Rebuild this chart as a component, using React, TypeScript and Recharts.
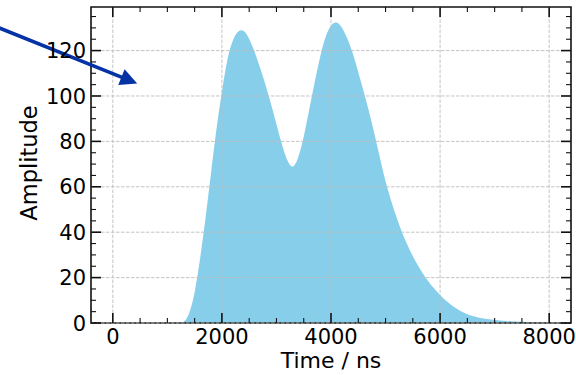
import React from 'react';
import { AreaChart, Area, XAxis, YAxis, ReferenceLine, ReferenceArea } from 'recharts';

const timeNs = [
  0, 500, 1000, 1200, 1300, 1400, 1500, 1600, 1700, 1800, 1900, 2000, 2100, 2200, 2300, 2400,
  2500, 2600, 2700, 2800, 2900, 3000, 3100, 3200, 3300, 3400, 3500, 3600, 3700, 3800, 3900,
  4000, 4100, 4200, 4300, 4400, 4500, 4600, 4700, 4800, 4900, 5000, 5100, 5200, 5300, 5400,
  5500, 5600, 5700, 5800, 5900, 6000, 6100, 6200, 6300, 6400, 6500, 6600, 6700, 6800, 6900,
  7000, 7200, 7400, 7600, 7800, 8000,
];
const amplitude = [
  0, 0, 0, 0, 0, 3.5, 12.5, 28, 46, 66, 86, 102, 117, 125, 129, 129.3,
  125.5, 119.5, 112.5, 105, 96.5, 87.5, 78.5, 71, 67.5, 72.5, 81.5, 94, 106, 117.5, 126.5,
  131.5, 133, 130.5, 125.5, 119, 110.5, 102, 93, 83, 72.5, 62, 54, 46.5, 40, 34.3,
  29.3, 25, 21.2, 17.8, 14.9, 12.3, 10, 8, 6.3, 4.9, 3.8, 3.0, 2.4, 1.95, 1.6,
  1.3, 0.9, 0.6, 0.4, 0.2, 0.1,
];

const xTicks = [0, 500, 1000, 1500, 2000, 2500, 3000, 3500, 4000, 4500, 5000, 5500, 6000, 6500, 7000, 7500, 8000];
const xMajor = [0, 2000, 4000, 6000, 8000];
const yTicks = [0, 5, 10, 15, 20, 25, 30, 35, 40, 45, 50, 55, 60, 65, 70, 75, 80, 85, 90, 95, 100, 105, 110, 115, 120, 125, 130, 135];
const yMajor = [0, 20, 40, 60, 80, 100, 120];
const xDomain = [-400, 8400];
const yDomain = [0, 139.2];

// annotation arrow, data coordinates
const arrowFrom = { x: -2240, y: 131.5 };
const arrowTo = { x: 447, y: 105.5 };

const data = timeNs.map((t, i) => ({ t, amp: amplitude[i] }));

const W = 576;
const H = 375;
const PLOT_TOP = 7;
const PLOT_RIGHT = 571;
const INK = '#111';
const FONT = '"DejaVu Sans", sans-serif';

const XTick = (props: any) => {
  const { x, y, payload } = props;
  const major = xMajor.includes(payload.value);
  const len = major ? 10 : 5;
  const sw = major ? 1.6 : 1.1;
  return (
    <g>
      <line x1={x} x2={x} y1={y} y2={y - len} stroke={INK} strokeWidth={sw} />
      <line x1={x} x2={x} y1={PLOT_TOP} y2={PLOT_TOP + len} stroke={INK} strokeWidth={sw} />
      {major && (
        <text x={x} y={y + 21} textAnchor="middle" fontSize={21} fontFamily={FONT} fill="#000">
          {payload.value}
        </text>
      )}
    </g>
  );
};

const YTick = (props: any) => {
  const { x, y, payload } = props;
  const major = yMajor.includes(payload.value);
  const len = major ? 10 : 5;
  const sw = major ? 1.6 : 1.1;
  return (
    <g>
      <line x1={x} x2={x + len} y1={y} y2={y} stroke={INK} strokeWidth={sw} />
      <line x1={PLOT_RIGHT} x2={PLOT_RIGHT - len} y1={y} y2={y} stroke={INK} strokeWidth={sw} />
      {major && (
        <text x={x - 5} y={y} dy="0.36em" textAnchor="end" fontSize={21} fontFamily={FONT} fill="#000">
          {payload.value}
        </text>
      )}
    </g>
  );
};

const Arrow = (props: any) => {
  const { x1, y1, x2, y2 } = props;
  const dx = x2 - x1;
  const dy = y2 - y1;
  const d = Math.sqrt(dx * dx + dy * dy);
  const ux = dx / d;
  const uy = dy / d;
  const hl = 17;
  const hw = 8.5;
  const bx = x2 - ux * hl;
  const by = y2 - uy * hl;
  return (
    <g>
      <line x1={x1} y1={y1} x2={bx + ux * 2} y2={by + uy * 2} stroke="#0533a5" strokeWidth={3.6} />
      <polygon
        points={`${x2},${y2} ${bx - uy * hw},${by + ux * hw} ${bx + uy * hw},${by - ux * hw}`}
        fill="#0533a5"
      />
    </g>
  );
};

export default function App() {
  return (
    <div style={{ position: 'absolute', left: 0, top: 0, width: W, height: H, background: '#fff' }}>
      <AreaChart
        width={W}
        height={H}
        data={data}
        margin={{ top: PLOT_TOP, right: W - PLOT_RIGHT, left: 0, bottom: 0 }}
        style={{ fontFamily: FONT }}
      >
        <Area
          type="basis"
          dataKey="amp"
          stroke="none"
          fill="#87ceeb"
          fillOpacity={1}
          isAnimationActive={false}
        />
        {xMajor.map((v) => (
          <ReferenceLine key={'gx' + v} x={v} stroke="#bdbdbd" strokeWidth={0.9} strokeDasharray="3.5 1.5" />
        ))}
        {yMajor.map((v) => (
          <ReferenceLine key={'gy' + v} y={v} stroke="#bdbdbd" strokeWidth={0.9} strokeDasharray="3.5 1.5" />
        ))}
        <ReferenceArea
          x1={xDomain[0]}
          x2={xDomain[1]}
          y1={yDomain[0]}
          y2={yDomain[1]}
          fill="none"
          fillOpacity={0}
          stroke={INK}
          strokeWidth={1.6}
          ifOverflow="visible"
        />
        <ReferenceLine
          segment={[arrowFrom, arrowTo]}
          ifOverflow="visible"
          shape={Arrow}
        />
        <XAxis
          dataKey="t"
          type="number"
          domain={xDomain}
          allowDataOverflow
          ticks={xTicks}
          interval={0}
          tick={XTick}
          tickLine={false}
          axisLine={false}
          tickSize={0}
          tickMargin={0}
          height={H - 323}
          label={() => (
            <text x={331} y={368} textAnchor="middle" fontSize={22} fontFamily={FONT} fill="#000">
              Time / ns
            </text>
          )}
        />
        <YAxis
          type="number"
          domain={yDomain}
          allowDataOverflow
          ticks={yTicks}
          interval={0}
          tick={YTick}
          tickLine={false}
          axisLine={false}
          tickSize={0}
          tickMargin={0}
          width={91}
          label={() => (
            <text
              x={37}
              y={163}
              transform="rotate(-90 37 163)"
              textAnchor="middle"
              fontSize={22.5}
              fontFamily={FONT}
              fill="#000"
            >
              Amplitude
            </text>
          )}
        />
      </AreaChart>
    </div>
  );
}
